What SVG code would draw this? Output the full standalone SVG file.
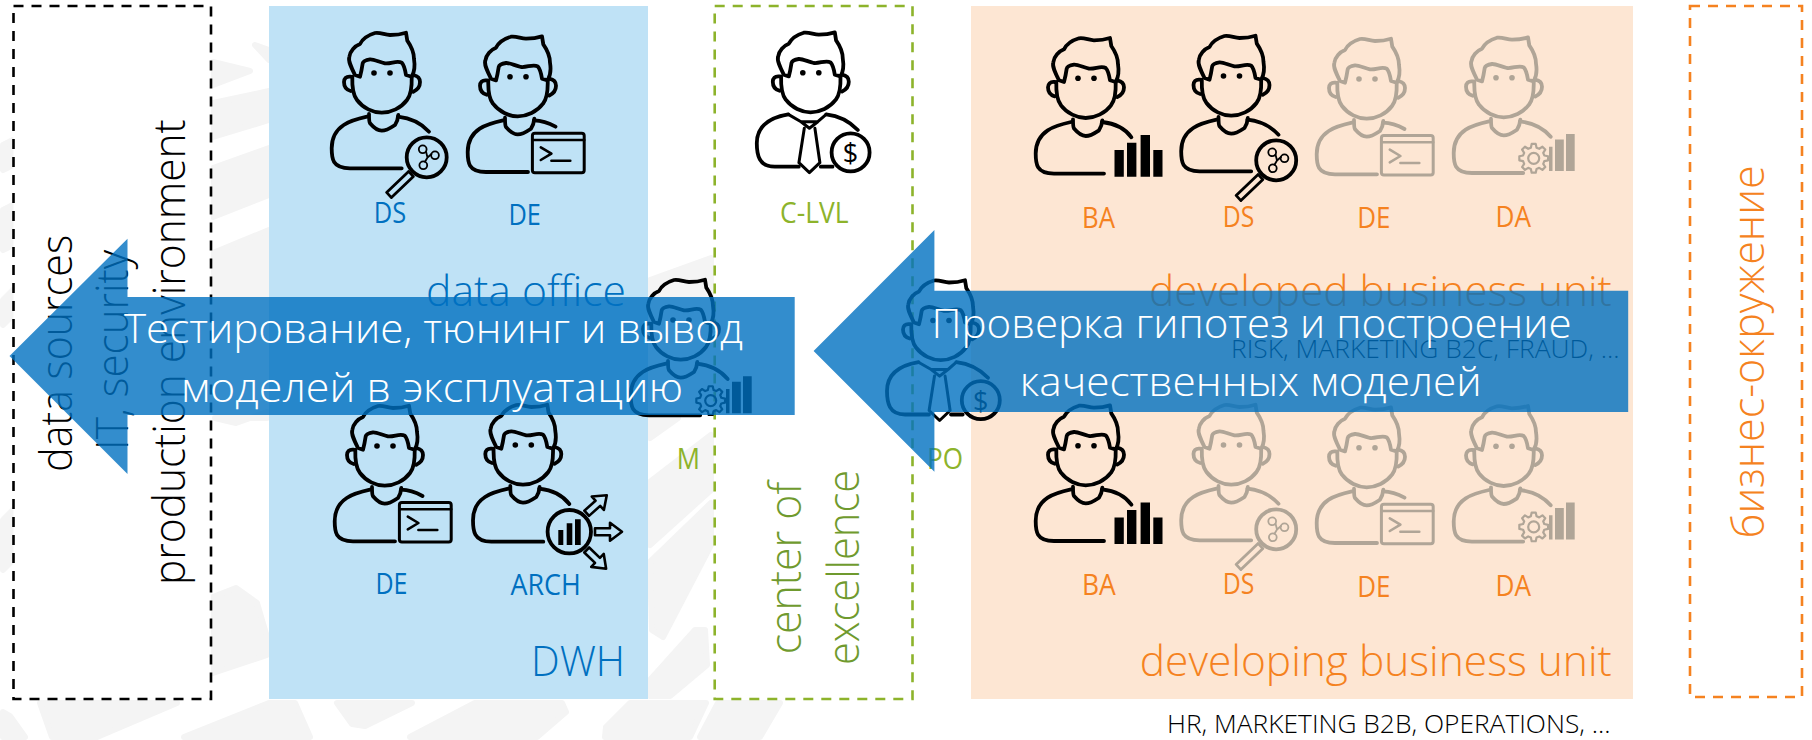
<svg xmlns="http://www.w3.org/2000/svg" width="1812" height="740" viewBox="0 0 1812 740">
<style>
text{font-family:"Open Sans","Noto Sans","Liberation Sans",sans-serif;font-weight:300}
.s{fill:none;stroke:currentColor;stroke-width:3.8;stroke-linecap:round;stroke-linejoin:round}
.t{stroke-width:2.2}
.m{stroke-width:1.8}
.f{fill:currentColor;stroke:none}
.k{color:#000}.g{color:#B0A597}
.wm{fill:#F4F4F4;stroke:#F4F4F4;stroke-width:6;stroke-linejoin:round}
.box{fill:#fff;stroke-width:2.6;stroke-dasharray:10 8}
.lab{font-size:28.5px;font-weight:400}
.blue{fill:#0070C0}.or{fill:#F58220}.gr{fill:#8DB32B}.dg{fill:#6F9A2E}.blk{fill:#000}
.big{font-size:42px}.rot{font-size:44px}.small{font-size:25px}
.wt{fill:#fff;font-size:40px}
.arrow{fill:#0070C0;fill-opacity:.8}
</style>
<defs>
<g id="head">
<path class="s" d="M-27,2C-31,-6 -34,-12 -32.7,-16C-32,-22 -27,-27 -22,-29C-20,-33 -17,-37 -7,-40C-2,-41 3,-38 8,-38C14,-38 20,-39 24,-40.3L25.3,-32.3C29,-27 32,-20 32,-14C33,-8 33,-2 29.7,3.7L24,2C23,-4 22,-8 19.7,-10.3C15,-13 9,-9 3,-9.7C-3,-11 -8,-14 -12,-13.7C-17,-13 -19,-11 -19.3,-9.7C-20,-5 -21,0 -22,3.7Z"/>
<path class="s" d="M-29.7,3.7C-30,14 -29,22 -25,27C-19,35 -9,39.7 -.3,39.7C9,39.7 19,35 25,27C29,22 30,14 29.7,3.7"/>
<path class="s" d="M-31.3,3.7C-36,3 -38,6 -38,9C-38,14 -35,17 -31.3,18M31.3,2C36,3 38,6 38,9C38,14 35,17 31.3,18.7"/>
<circle class="f" cx="-8" cy="0" r="2.8"/><circle class="f" cx="8" cy="0" r="2.8"/>
</g>
<path id="neck" class="s" d="M-13,41C-13,46 -13,49 -12,50.3C-8,55 -4,57.7 -.3,57.7C5,57.7 10,54 13,52C15,49 16,46 16.3,42"/>
<g id="ds">
<use href="#head"/><use href="#neck"/>
<path class="s" d="M-15,43.7C-30,47 -50.3,52 -50.3,75.3C-50.3,85 -50,95.3 -32,95.3H19.7M16,43.7C28,45 39,50 47,58.7"/>
<circle class="s" cx="44.7" cy="84.3" r="20"/>
<path class="s" style="stroke-width:2.8" d="M31.4,103.6L26.6,98.4L4.6,119.4L9.4,124.6Z"/>
<g class="s m"><circle cx="40.7" cy="76.3" r="3.9"/><circle cx="53" cy="82.3" r="3.9"/><circle cx="41.3" cy="92.3" r="3.9"/><path d="M44,78.5L45.5,84.5L49.5,81M45.5,84.5L43,88.8"/></g>
</g>
<g id="de">
<use href="#head"/><use href="#neck"/>
<path class="s" d="M-15,43.7C-30,47 -50.3,52 -50.3,75.3C-50.3,85 -50,95.3 -32,95.3H10M16,43.7C24,44 32,47 37.5,50"/>
<rect class="s" style="stroke-width:3" x="14.4" y="56.6" width="51.8" height="39.4" rx="2.5"/>
<path class="s" style="stroke-width:2.6" d="M14.4,63.3H66.2M22.8,70.6L33.4,77L22.8,83.3M33.4,84H52.3"/>
</g>
<g id="ba">
<use href="#head"/><use href="#neck"/>
<path class="s" d="M-15,43.7C-30,47 -50.3,52 -50.3,75.3C-50.3,85 -50,95.3 -32,95.3H18M16,43.7C28,45 39,50 45.4,59"/>
<path class="f" d="M28.5,71.7H37.8V98.4H28.5ZM41,64.4H50.4V98.4H41ZM54.6,56.7H64V98.4H54.6ZM67.3,71.7H76.5V98.4H67.3Z"/>
</g>
<g id="da">
<use href="#head"/><use href="#neck"/>
<path class="s" d="M-15,43.7C-30,47 -50.3,52 -50.3,75.3C-50.3,85 -50,95.3 -32,95.3H19.2M16,43.7C28,45 39,50 46.7,59"/>
<path class="f" d="M45,69H48.5V93.3H45ZM51,61.7H59.8V93.3H51ZM62,56.3H70.7V93.3H62Z"/>
<g transform="translate(29.7,80.6)">
<circle class="s t" r="5.5"/>
<path class="s t" d="M10.6,-2.85L14.36,-2.02L14.36,2.02L10.6,2.85L9.53,5.5L11.58,8.73L8.73,11.58L5.5,9.53L2.85,10.6L2.02,14.36L-2.02,14.36L-2.85,10.6L-5.5,9.53L-8.73,11.58L-11.58,8.73L-9.53,5.5L-10.6,2.85L-14.36,2.02L-14.36,-2.02L-10.6,-2.85L-9.53,-5.5L-11.58,-8.73L-8.73,-11.58L-5.5,-9.53L-2.85,-10.6L-2.02,-14.36L2.02,-14.36L2.85,-10.6L5.5,-9.53L8.73,-11.58L11.58,-8.73L9.53,-5.5Z"/>
</g>
</g>
<g id="clvl">
<use href="#head"/>
<path class="s" d="M-22.5,41.7C-36,44 -54,50 -54,70.6C-54,82 -52,94 -36,94H-12M10,94H21.7M15.4,41.7C27,43 39,49 47,57.3"/>
<path class="s" style="stroke-width:3" d="M-22.5,41.7L-9.8,49H7L15.4,41.7M-9.8,49L-1.4,55.6L7,49M-6.5,55.6L-11.9,90L-1.4,100L9.1,90L4.1,55.6"/>
<circle class="s" cx="39.8" cy="79.7" r="19"/>
<text class="f" x="39.8" y="90" text-anchor="middle" style="font-size:27px;font-weight:400">$</text>
</g>
<g id="arch">
<use href="#head"/><use href="#neck"/>
<path class="s" d="M-15,43.7C-30,47 -50.3,52 -50.3,75.3C-50.3,85 -50,96.7 -32,96.7H20M16,43.7C28,45 39,50 46,59"/>
<circle class="s" cx="46" cy="86.7" r="21.7"/>
<path class="f" d="M35,85H40V100H35ZM43.4,78.3H49V100H43.4ZM51.7,74.3H57.4V100H51.7Z"/>
<path class="s" style="stroke-width:2.6" transform="translate(71.7,86.7)" d="M0,-3.5H15V-9L27,0L15,9V3.5H0Z"/>
<path class="s" style="stroke-width:2.6" transform="translate(63.4,68.3) rotate(-42)" d="M0,-3.5H15V-9L27,0L15,9V3.5H0Z"/>
<path class="s" style="stroke-width:2.6" transform="translate(63.4,105) rotate(44)" d="M0,-3.5H15V-9L27,0L15,9V3.5H0Z"/>
</g>
</defs>
<g id="watermark" class="wm">
<path d="M213,62L250,71L213,85ZM255,45L269,50V60Z"/>
<path d="M213,103L269,91V120L213,137Z"/>
<path d="M213,168L269,148V195L213,217Z"/>
<path d="M213,253L269,230V297H213Z"/>
<path d="M215,418L236,423L267,412V418ZM213,597L236,588L257,603L267,637V655L213,673Z"/>
<path d="M3,145L13,140V165L3,170ZM3,210L13,205V245L3,250ZM3,300L13,290V315L3,325ZM3,520L13,510V560L3,570Z"/>
<path d="M3,712L10,716L25,737H3ZM40,703H177L97,737H52ZM269,703H295L310,737H184ZM337,703H412L365,726L352,724ZM475,703H562L566,712L537,737H410ZM630,703H706L690,737H605L606,727ZM718,703H780L760,737H700Z"/>
<path d="M650,280L711,258V297H650ZM650,418H678L650,438ZM650,482L711,435V490L650,545ZM650,562L711,503V545L663,637L652,630ZM695,630H705L707,665L670,696H650V680Z"/>
</g>
<g id="zone-sources"><rect class="box" x="13.5" y="6" width="197.5" height="693" stroke="#000"/>
<text class="blk rot" transform="translate(71.5,471.7) rotate(-90)" textLength="236.7" lengthAdjust="spacingAndGlyphs">data sources</text>
<text class="blk rot" transform="translate(127.5,450) rotate(-90)" textLength="200" lengthAdjust="spacingAndGlyphs">IT, security</text>
<text class="blk rot" transform="translate(185,585) rotate(-90)" textLength="465.7" lengthAdjust="spacingAndGlyphs">production environment</text></g>
<g id="zone-data"><rect x="269" y="6" width="379" height="693" fill="#BFE2F6"/>
<text class="blue big" x="426" y="306" textLength="200" lengthAdjust="spacingAndGlyphs">data office</text>
<text class="blue big" x="531" y="676" textLength="94" lengthAdjust="spacingAndGlyphs">DWH</text></g>
<g id="zone-coe"><rect class="box" x="714.7" y="6" width="197.8" height="693" stroke="#8DB32B"/>
<text class="dg rot" transform="translate(801,654.3) rotate(-90)" textLength="172.6" lengthAdjust="spacingAndGlyphs">center of</text>
<text class="dg rot" transform="translate(859,665) rotate(-90)" textLength="195" lengthAdjust="spacingAndGlyphs">excellence</text></g>
<g id="zone-business"><rect x="971" y="6" width="662" height="693" fill="#FDE6D3"/>
<text class="or big" x="1149" y="306" textLength="462.8" lengthAdjust="spacingAndGlyphs">developed business unit</text>
<text class="or big" x="1139.8" y="676" textLength="472" lengthAdjust="spacingAndGlyphs">developing business unit</text>
<text class="blk small" x="1231" y="358.3" textLength="388.6" lengthAdjust="spacingAndGlyphs">RISK, MARKETING B2C, FRAUD, ...</text>
<text class="blk small" x="1167" y="733.3" textLength="443.6" lengthAdjust="spacingAndGlyphs">HR, MARKETING B2B, OPERATIONS, ...</text></g>
<g id="zone-env"><rect class="box" x="1690" y="6" width="112" height="691" stroke="#F58220"/>
<text class="or rot" transform="translate(1763.5,538.3) rotate(-90)" textLength="373" lengthAdjust="spacingAndGlyphs">бизнес-окружение</text></g>
<g id="node-ds1"><use class="k" href="#ds" x="382" y="73"/><text class="lab blue" x="373.7" y="223.3" textLength="32.4" lengthAdjust="spacingAndGlyphs">DS</text></g>
<g id="node-de1"><use class="k" href="#de" x="518" y="76.7"/><text class="lab blue" x="508.4" y="225.3" textLength="32.4" lengthAdjust="spacingAndGlyphs">DE</text></g>
<g id="node-de3"><use class="k" href="#de" x="385" y="446"/><text class="lab blue" x="375.4" y="594.3" textLength="32" lengthAdjust="spacingAndGlyphs">DE</text></g>
<g id="node-arch"><use class="k" href="#arch" x="523.3" y="445"/><text class="lab blue" x="510.5" y="595" textLength="70.3" lengthAdjust="spacingAndGlyphs">ARCH</text></g>
<g id="node-clvl"><use class="k" href="#clvl" x="810.8" y="72.7"/><text class="lab gr" x="780" y="223.3" textLength="68.5" lengthAdjust="spacingAndGlyphs">C-LVL</text></g>
<g id="node-m"><use class="k" href="#da" x="681" y="320"/><text class="lab gr" x="676.8" y="469.3" textLength="23.2" lengthAdjust="spacingAndGlyphs">M</text></g>
<g id="node-po"><use class="k" href="#clvl" x="941" y="320.5"/><text class="lab gr" x="927" y="469.3" textLength="36" lengthAdjust="spacingAndGlyphs">PO</text></g>
<g id="node-ba1"><use class="k" href="#ba" x="1086" y="78.3"/><text class="lab or" x="1082" y="227.7" textLength="33" lengthAdjust="spacingAndGlyphs">BA</text></g>
<g id="node-ds2"><use class="k" href="#ds" x="1231.5" y="76"/><text class="lab or" x="1222.7" y="226.7" textLength="31.6" lengthAdjust="spacingAndGlyphs">DS</text></g>
<g id="node-de2"><use class="g" href="#de" x="1367" y="79"/><text class="lab or" x="1357.3" y="227.7" textLength="33.2" lengthAdjust="spacingAndGlyphs">DE</text></g>
<g id="node-da2"><use class="g" href="#da" x="1504" y="77.7"/><text class="lab or" x="1495.5" y="226.7" textLength="35.5" lengthAdjust="spacingAndGlyphs">DA</text></g>
<g id="node-ba3"><use class="k" href="#ba" x="1086" y="445.7"/><text class="lab or" x="1082" y="595.3" textLength="33.8" lengthAdjust="spacingAndGlyphs">BA</text></g>
<g id="node-ds4"><use class="g" href="#ds" x="1231.5" y="445"/><text class="lab or" x="1222.7" y="594.3" textLength="31.6" lengthAdjust="spacingAndGlyphs">DS</text></g>
<g id="node-de4"><use class="g" href="#de" x="1367" y="447.7"/><text class="lab or" x="1357.3" y="596.7" textLength="33.2" lengthAdjust="spacingAndGlyphs">DE</text></g>
<g id="node-da4"><use class="g" href="#da" x="1504" y="446.3"/><text class="lab or" x="1495.5" y="595.7" textLength="35.5" lengthAdjust="spacingAndGlyphs">DA</text></g>
<g id="connectors">
<path class="arrow" d="M9.5,356L127.5,238.7V297H794.7V415H127.5V474Z"/>
<path class="arrow" d="M813.6,351L934.4,230V290.7H1628.2V412H934.4V471.7Z"/>
<text class="wt" x="124" y="343.3" textLength="619" lengthAdjust="spacingAndGlyphs">Тестирование, тюнинг и вывод</text>
<text class="wt" x="181" y="401.7" textLength="502" lengthAdjust="spacingAndGlyphs">моделей в эксплуатацию</text>
<text class="wt" x="931.5" y="338.3" textLength="640" lengthAdjust="spacingAndGlyphs">Проверка гипотез и построение</text>
<text class="wt" x="1019.8" y="396" textLength="462" lengthAdjust="spacingAndGlyphs">качественных моделей</text>
</g>
</svg>
